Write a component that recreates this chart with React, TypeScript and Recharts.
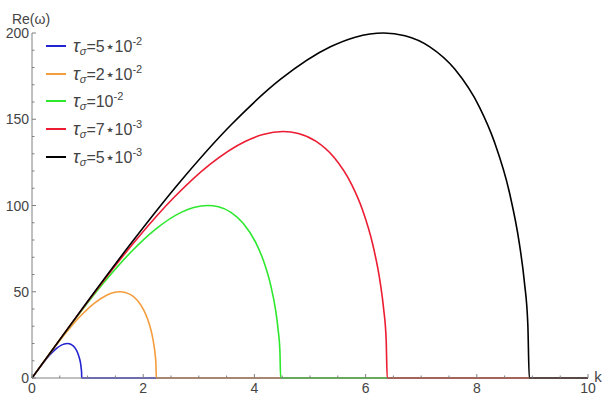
import React from 'react';
import { LineChart, Line, XAxis, YAxis, Legend, Label } from 'recharts';

// k values and Re(omega) values, one pair of arrays per curve
const kBlue = [0, 0.089, 0.179, 0.268, 0.358, 0.447, 0.537, 0.581, 0.632, 0.671, 0.716, 0.76, 0.805, 0.832, 0.859, 0.877, 0.885, 0.892, 0.894, 10];
const reBlue = [0, 3.98, 7.84, 11.45, 14.66, 17.32, 19.2, 19.76, 20, 19.84, 19.2, 17.91, 15.69, 13.67, 10.75, 7.8, 5.59, 3.09, 0, 0];

const kOrange = [0, 0.224, 0.447, 0.671, 0.894, 1.118, 1.342, 1.453, 1.581, 1.677, 1.789, 1.901, 2.012, 2.079, 2.147, 2.191, 2.214, 2.229, 2.236, 10];
const reOrange = [0, 9.95, 19.6, 28.62, 36.66, 43.3, 48, 49.4, 50, 49.61, 48, 44.78, 39.23, 34.19, 26.88, 19.5, 13.97, 7.72, 0, 0];

const kGreen = [0, 0.447, 0.894, 1.342, 1.789, 2.236, 2.683, 2.907, 3.162, 3.354, 3.578, 3.801, 4.025, 4.159, 4.293, 4.383, 4.427, 4.459, 4.472, 10];
const reGreen = [0, 19.9, 39.19, 57.24, 73.32, 86.6, 96, 98.79, 100, 99.22, 96, 89.55, 78.46, 68.37, 53.76, 39, 27.93, 15.43, 0, 0];

const kRed = [0, 0.639, 1.278, 1.917, 2.556, 3.195, 3.833, 4.153, 4.518, 4.792, 5.111, 5.431, 5.75, 5.942, 6.133, 6.261, 6.325, 6.37, 6.389, 10];
const reRed = [0, 28.43, 55.99, 81.77, 104.75, 123.72, 137.14, 141.13, 142.86, 141.74, 137.14, 127.93, 112.09, 97.67, 76.8, 55.72, 39.9, 22.04, 0, 0];

const kBlack = [0, 0.894, 1.789, 2.683, 3.578, 4.472, 5.367, 5.814, 6.325, 6.708, 7.155, 7.603, 8.05, 8.318, 8.587, 8.765, 8.855, 8.918, 8.944, 10];
const reBlack = [0, 39.8, 78.38, 114.48, 146.64, 173.2, 192, 197.58, 200, 198.44, 192, 179.1, 156.92, 136.74, 107.52, 78, 55.86, 30.86, 0, 0];

const seriesNames = ['blue', 'orange', 'green', 'red', 'black'];
const seriesColors = ['#2424d2', '#f59d3d', '#2ee82e', '#ec1c32', '#000000'];
const tauMantissa = ['5\u22C6', '2\u22C6', '', '7\u22C6', '5\u22C6'];
const tauExponent = ['-2', '-2', '-2', '-3', '-3'];

const xTicks = [0, 0.5, 1, 1.5, 2, 2.5, 3, 3.5, 4, 4.5, 5, 5.5, 6, 6.5, 7, 7.5, 8, 8.5, 9, 9.5, 10];
const xLabels = [0, 2, 4, 6, 8, 10];
const yTicks = [0, 10, 20, 30, 40, 50, 60, 70, 80, 90, 100, 110, 120, 130, 140, 150, 160, 170, 180, 190, 200];
const yLabels = [0, 50, 100, 150, 200];

const kArrays = [kBlue, kOrange, kGreen, kRed, kBlack];
const reArrays = [reBlue, reOrange, reGreen, reRed, reBlack];

const series = seriesNames.map((name, i) => ({
  name,
  color: seriesColors[i],
  data: kArrays[i].map((k, j) => ({ k, re: reArrays[i][j] })),
}));

const FONT = '"Liberation Sans", Arial, sans-serif';
const AXIS = '#808080';
const TEXT = '#444444';

const XTick = (props: any) => {
  const { x, y, payload } = props;
  const v = payload.value;
  const major = xLabels.includes(v);
  return (
    <g>
      <line x1={x} x2={x} y1={y} y2={y - (major ? 4 : 2.5)} stroke={AXIS} strokeWidth={1} />
      {major && (
        <text x={x} y={y + 15} textAnchor="middle" fontSize={14} fontFamily={FONT} fill={TEXT}>
          {v}
        </text>
      )}
    </g>
  );
};

const YTick = (props: any) => {
  const { x, y, payload } = props;
  const v = payload.value;
  const major = yLabels.includes(v);
  return (
    <g>
      <line x1={x} x2={x + (major ? 4 : 2.5)} y1={y} y2={y} stroke={AXIS} strokeWidth={1} />
      {major && (
        <text x={x - 3} y={y + 5} textAnchor="end" fontSize={14} fontFamily={FONT} fill={TEXT}>
          {v}
        </text>
      )}
    </g>
  );
};

const LegendContent = () => (
  <div style={{ fontFamily: FONT, fontSize: 16, color: TEXT }}>
    {series.map((s, i) => (
      <div key={s.name} style={{ display: 'flex', alignItems: 'center', height: 27.7 }}>
        <div style={{ width: 20, height: 2, background: s.color, marginRight: 7 }} />
        <span style={{ whiteSpace: 'nowrap', lineHeight: '16px' }}>
          <span style={{ fontStyle: 'italic', fontSize: 18 }}>τ</span>
          <sub style={{ fontStyle: 'italic', fontSize: 11, verticalAlign: -3 }}>σ</sub>
          {'=' + tauMantissa[i] + '10'}
          <sup style={{ fontSize: 11, verticalAlign: 7 }}>{tauExponent[i]}</sup>
        </span>
      </div>
    ))}
  </div>
);

export default function App() {
  return (
    <div style={{ position: 'absolute', left: 0, top: 0, width: 609, height: 397, background: '#fff' }}>
      <LineChart width={609} height={397} margin={{ top: 33, right: 21, bottom: 0, left: 0 }}>
        <XAxis
          type="number"
          dataKey="k"
          domain={[0, 10]}
          ticks={xTicks}
          interval={0}
          height={19}
          tickSize={0}
          tickMargin={0}
          tickLine={false}
          tick={<XTick />}
          axisLine={{ stroke: AXIS, strokeWidth: 1 }}
        >
          <Label
            value="k"
            position="insideTopRight"
            offset={0}
            content={(p: any) => {
              const vb = p.viewBox || {};
              return (
                <text x={(vb.x ?? 32) + (vb.width ?? 556) + 10} y={(vb.y ?? 378) + 4} textAnchor="middle" fontFamily={FONT} fontSize={15} fill={TEXT}>
                  k
                </text>
              );
            }}
          />
        </XAxis>
        <YAxis
          type="number"
          dataKey="re"
          domain={[0, 200]}
          ticks={yTicks}
          interval={0}
          width={32}
          tickSize={0}
          tickMargin={0}
          tickLine={false}
          tick={<YTick />}
          axisLine={{ stroke: AXIS, strokeWidth: 1 }}
        >
          <Label
            value="Re(ω)"
            position="insideTopRight"
            content={(p: any) => {
              const vb = p.viewBox || {};
              return (
                <text x={(vb.x ?? 0) + (vb.width ?? 32) - 1} y={(vb.y ?? 33) - 9} textAnchor="middle" fontFamily={FONT} fontSize={14} fill={TEXT}>
                  Re(ω)
                </text>
              );
            }}
          />
        </YAxis>
        <Legend
          layout="vertical"
          align="center"
          verticalAlign="middle"
          content={<LegendContent />}
          wrapperStyle={{ left: 46, top: 32, width: 'auto', height: 'auto' }}
        />
        {series.map((s) => (
          <Line
            key={s.name}
            name={s.name}
            data={s.data}
            dataKey="re"
            type="monotone"
            stroke={s.color}
            strokeWidth={1.6}
            dot={false}
            activeDot={false}
            isAnimationActive={false}
          />
        ))}
      </LineChart>
    </div>
  );
}
